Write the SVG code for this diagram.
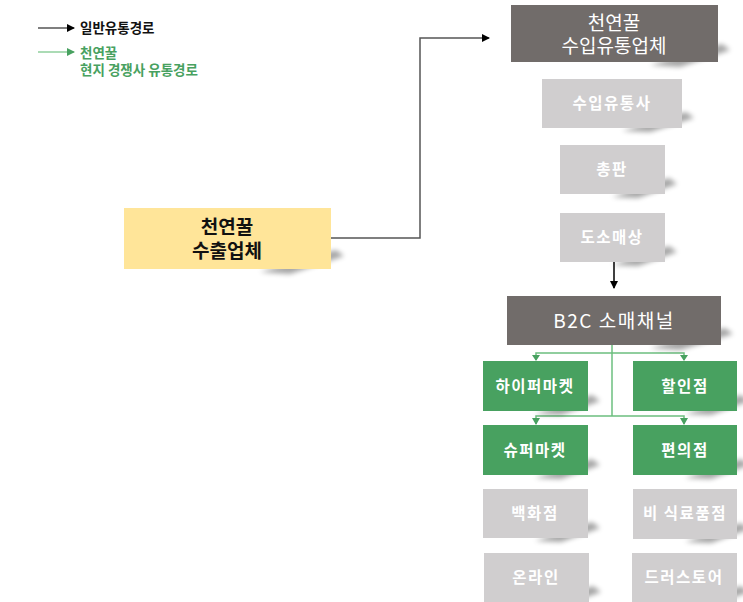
<svg xmlns="http://www.w3.org/2000/svg" width="743" height="602" viewBox="0 0 743 602">
<style>
text{font-family:"Noto Sans CJK KR","Noto Sans",sans-serif;text-anchor:middle}
.dark{fill:#716c6a}
.gray{fill:#d0cecf}
.green{fill:#48a160}
.yellow{fill:#ffe599}
.tw{fill:#fff;font-size:15.5px;font-weight:bold;letter-spacing:1.5px}
.td{fill:#fff;font-size:19px}
.ty{fill:#111;font-size:19px;font-weight:bold}
.lg{text-anchor:start;font-size:13.5px;font-weight:bold}
.sh{fill:#000;opacity:0.35;filter:url(#blur)}
.gl{stroke:#6cbf7f;stroke-width:1.5;fill:none}
</style>
<defs>
<filter id="blur" x="-50%" y="-50%" width="200%" height="200%"><feGaussianBlur stdDeviation="2.5"/></filter>
<marker id="ab" markerWidth="8" markerHeight="8" refX="7" refY="4" orient="auto" markerUnits="userSpaceOnUse"><path d="M0,0 L8,4 L0,8 z" fill="#000"/></marker>
<marker id="ag" markerWidth="8" markerHeight="8" refX="7" refY="4" orient="auto" markerUnits="userSpaceOnUse"><path d="M0,0 L8,4 L0,8 z" fill="#48a160"/></marker>
</defs>
<rect width="743" height="602" fill="#fff"/>

<g id="legend">
<line x1="38" y1="28" x2="74" y2="28" stroke="#000" stroke-width="1.2" marker-end="url(#ab)"/>
<text class="lg" x="80" y="33" fill="#111">일반유통경로</text>
<line x1="38" y1="52" x2="74" y2="52" stroke="#8fcf9c" stroke-width="1.5" marker-end="url(#ag)"/>
<text class="lg" x="80" y="58" fill="#48a160">천연꿀</text>
<text class="lg" x="80" y="75" fill="#48a160">현지 경쟁사 유통경로</text>
</g>

<g id="connectors">
<polyline points="331,238 420,238 420,38 489,38" fill="none" stroke="#555" stroke-width="1.5" marker-end="url(#ab)"/>
<line x1="614" y1="262" x2="614" y2="288" stroke="#000" stroke-width="1.5" marker-end="url(#ab)"/>
<line x1="612" y1="345" x2="612" y2="416" class="gl"/>
<polyline points="536,360 536,353 684,353 684,360" class="gl"/>
<polyline points="536,424 536,416 684,416 684,424" class="gl"/>
<path d="M532,355 L540,355 L536,361 z M680,355 L688,355 L684,361 z M532,418 L540,418 L536,425 z M680,418 L688,418 L684,425 z" fill="#48a160"/>
</g>

<g id="exporter">
<polygon class="sh" points="260,272 336,250 344,256 290,274"/>
<rect class="yellow" x="124" y="208" width="207" height="61"/>
<text class="ty" x="227" y="234">천연꿀</text>
<text class="ty" x="227" y="258">수출업체</text>
</g>

<g id="importer">
<polygon class="sh" points="650,65 722,44 730,50 680,67"/>
<rect class="dark" x="511" y="5" width="207" height="57"/>
<text class="td" x="614" y="30">천연꿀</text>
<text class="td" x="614" y="53">수입유통업체</text>
</g>

<g id="import-distributor">
<polygon class="sh" points="622,131 686,112 694,118 650,132"/>
<rect class="gray" x="542" y="79" width="140" height="49"/>
<text class="tw" x="612" y="109">수입유통사</text>
</g>

<g id="general-agent">
<polygon class="sh" points="612,197 669,178 677,184 638,198"/>
<rect class="gray" x="560" y="145" width="105" height="49"/>
<text class="tw" x="612" y="175">총판</text>
</g>

<g id="wholesale">
<polygon class="sh" points="612,265 669,246 677,252 638,266"/>
<rect class="gray" x="560" y="213" width="105" height="49"/>
<text class="tw" x="612" y="243">도소매상</text>
</g>

<g id="b2c">
<polygon class="sh" points="650,348 725,328 733,334 680,350"/>
<rect class="dark" x="507" y="296" width="214" height="49"/>
<text class="td" x="614" y="328" style="letter-spacing:1.5px">B2C 소매채널</text>
</g>

<g id="hypermarket">
<polygon class="sh" points="535,414 592,395 600,401 561,415"/>
<rect class="green" x="483" y="361" width="105" height="50"/>
<text class="tw" x="535" y="392">하이퍼마켓</text>
</g>

<g id="discount">
<polygon class="sh" points="685,414 741,395 749,401 711,415"/>
<rect class="green" x="633" y="361" width="104" height="50"/>
<text class="tw" x="685" y="392">할인점</text>
</g>

<g id="supermarket">
<polygon class="sh" points="535,478 592,459 600,465 561,479"/>
<rect class="green" x="483" y="425" width="105" height="50"/>
<text class="tw" x="535" y="456">슈퍼마켓</text>
</g>

<g id="convenience">
<polygon class="sh" points="685,478 741,459 749,465 711,479"/>
<rect class="green" x="633" y="425" width="104" height="50"/>
<text class="tw" x="685" y="456">편의점</text>
</g>

<g id="department">
<polygon class="sh" points="535,541 592,522 600,528 561,542"/>
<rect class="gray" x="483" y="489" width="105" height="49"/>
<text class="tw" x="535" y="519">백화점</text>
</g>

<g id="nonfood">
<polygon class="sh" points="685,542 741,523 749,529 711,543"/>
<rect class="gray" x="633" y="489" width="104" height="50"/>
<text class="tw" x="685" y="519">비 식료품점</text>
</g>

<g id="online">
<polygon class="sh" points="536,605 593,586 601,592 562,606"/>
<rect class="gray" x="484" y="553" width="105" height="49"/>
<text class="tw" x="536" y="583">온라인</text>
</g>

<g id="drugstore">
<polygon class="sh" points="684,605 741,586 749,592 710,606"/>
<rect class="gray" x="632" y="553" width="105" height="49"/>
<text class="tw" x="684" y="583">드러스토어</text>
</g>
</svg>
